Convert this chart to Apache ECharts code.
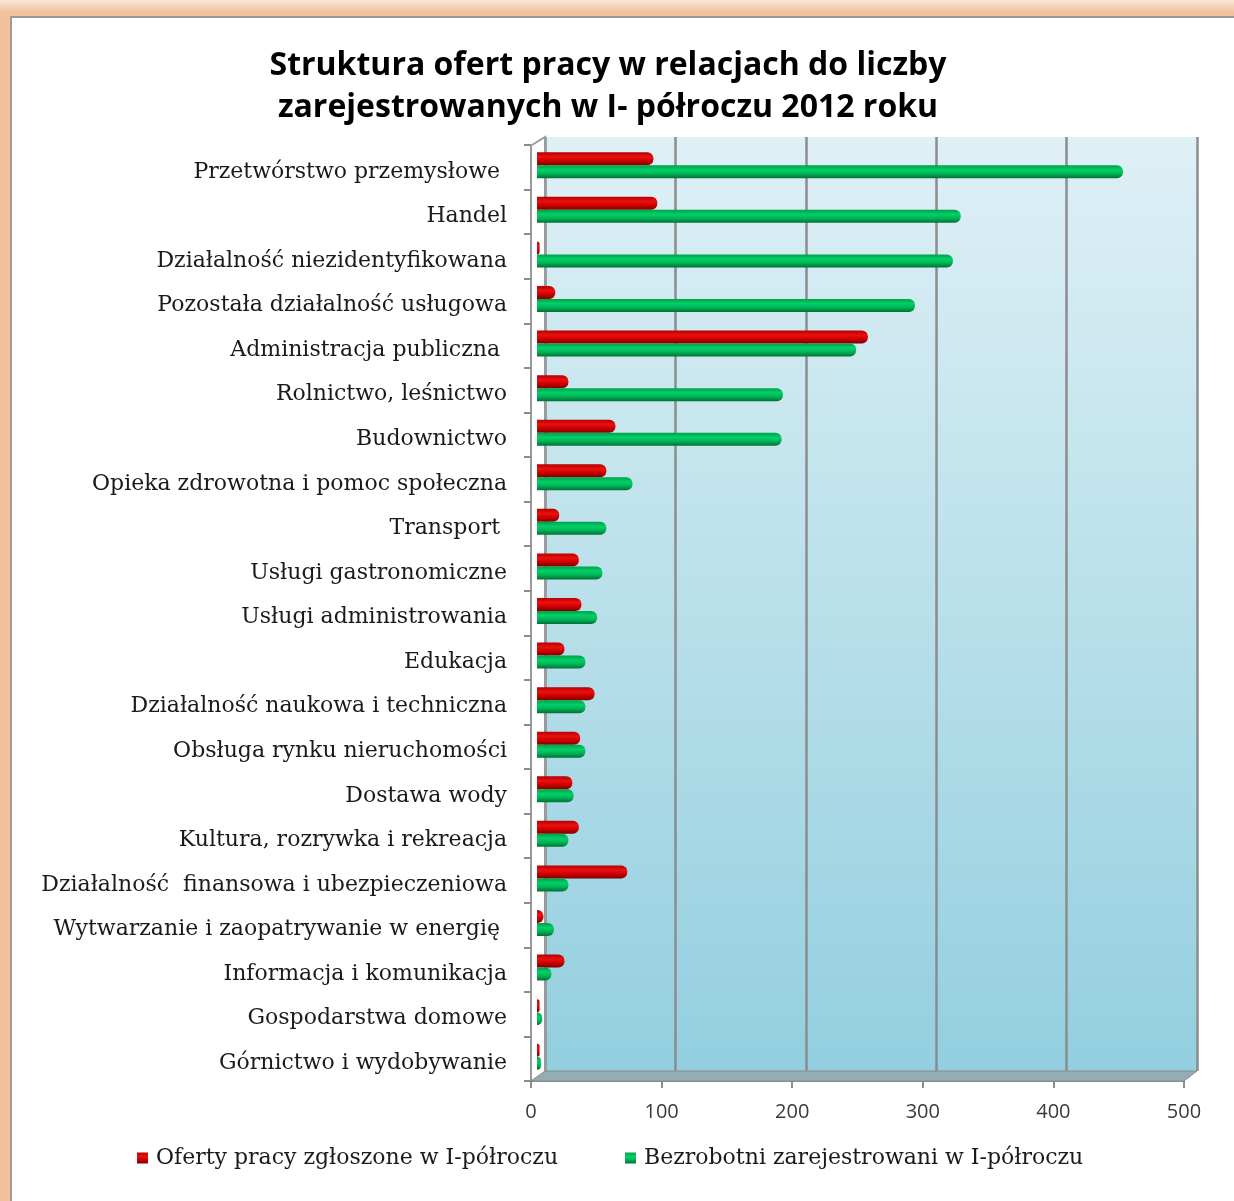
<!DOCTYPE html>
<html>
<head>
<meta charset="utf-8">
<script src="https://cdn.jsdelivr.net/npm/echarts@6/dist/echarts.min.js"></script>
<style>
    html, body { margin: 0; padding: 0; width: 1234px; height: 1201px; overflow: hidden; }
    body { background: linear-gradient(180deg, #fbe6d6 0px, #f2c29e 12px, #f2c29e 100%); }
    #frame { position: absolute; left: 10px; top: 16px; width: 1224px; height: 1185px;
             background: #fff; border-left: 2px solid #9a9a9a; border-top: 2px solid #9a9a9a; }
    #chart { position: absolute; left: 0; top: 0; width: 1234px; height: 1201px; }
</style>
</head>
<body>
<div id="frame"></div>
<div id="chart"></div>
<script>
// dane
const categories = [
    'Przetwórstwo przemysłowe ',
    'Handel',
    'Działalność niezidentyfikowana',
    'Pozostała działalność usługowa',
    'Administracja publiczna ',
    'Rolnictwo, leśnictwo',
    'Budownictwo',
    'Opieka zdrowotna i pomoc społeczna',
    'Transport ',
    'Usługi gastronomiczne',
    'Usługi administrowania',
    'Edukacja',
    'Działalność naukowa i techniczna',
    'Obsługa rynku nieruchomości',
    'Dostawa wody',
    'Kultura, rozrywka i rekreacja',
    'Działalność  finansowa i ubezpieczeniowa',
    'Wytwarzanie i zaopatrywanie w energię ',
    'Informacja i komunikacja',
    'Gospodarstwa domowe',
    'Górnictwo i wydobywanie'
];
const oferty = [89, 92, 2, 14, 253, 24, 60, 53, 17, 32, 34, 21, 44, 33, 27, 32, 69, 5, 21, 2, 2];
const bezrobotni = [448, 324, 318, 289, 244, 188, 187, 73, 53, 50, 46, 37, 37, 37, 28, 24, 24, 13, 11, 4, 3];
const xTicks = [0, 100, 200, 300, 400, 500];

const seriesNames = ['Oferty pracy zgłoszone w I-półroczu', 'Bezrobotni zarejestrowani w I-półroczu'];
const serifFont = '"DejaVu Serif", serif';

function cylinder(c0, c1, c2, c3) {
    return new echarts.graphic.LinearGradient(0, 0, 0, 1, [
        { offset: 0, color: c0 },
        { offset: 0.35, color: c1 },
        { offset: 0.65, color: c2 },
        { offset: 1, color: c3 }
    ]);
}

const dom = document.getElementById('chart');
const chart = echarts.init(dom);

const option = {
    animation: false,
    title: {
        text: 'Struktura ofert pracy w relacjach do liczby\nzarejestrowanych w I- półroczu 2012 roku',
        left: 603,
        top: 40,
        textAlign: 'center',
        textStyle: {
            fontFamily: '"Open Sans", sans-serif',
            fontWeight: 'bold',
            fontSize: 32,
            lineHeight: 42,
            color: '#000'
        }
    },
    legend: [
        {
            data: [seriesNames[0]], left: 137, top: 1147, padding: 0,
            icon: 'rect', itemWidth: 11, itemHeight: 11, itemGap: 8,
            textStyle: { fontFamily: serifFont, fontSize: 22, color: '#1a1a1a', padding: [0, 0, 0, 3] }
        },
        {
            data: [seriesNames[1]], left: 625, top: 1147, padding: 0,
            icon: 'rect', itemWidth: 11, itemHeight: 11, itemGap: 8,
            textStyle: { fontFamily: serifFont, fontSize: 22, color: '#1a1a1a', padding: [0, 0, 0, 3] }
        }
    ],
    graphic: [
        {
            // podłoga 3D
            type: 'polygon', z: 1,
            shape: { points: [[531, 1081], [545, 1071], [1197, 1071], [1184, 1081]] },
            style: { fill: '#94acb4', stroke: '#8a8a8a', lineWidth: 1 }
        },
        {
            // lewa ściana
            type: 'polyline', z: 1,
            shape: { points: [[545, 1071], [545, 137], [532, 145]] },
            style: { stroke: '#9a9a9a', lineWidth: 2, fill: null }
        }
    ],
    grid: [
        // tylna ściana
        { left: 545, right: 37, top: 137, bottom: 130, show: true, borderWidth: 0,
          backgroundColor: new echarts.graphic.LinearGradient(0, 0, 0, 1, [
              { offset: 0, color: '#dff0f6' },
              { offset: 1, color: '#93cfdf' }
          ]) },
        // przód (osie)
        { left: 531, right: 50, top: 145, bottom: 120 },
        // słupki
        { left: 537, right: 43, top: 143, bottom: 122 },
        // etykiety kategorii
        { left: 531, right: 50, top: 149.5, bottom: 115.5 }
    ],
    xAxis: [
        {
            gridIndex: 0, type: 'value', min: 0, max: 500, interval: 100,
            axisLine: { show: false }, axisTick: { show: false }, axisLabel: { show: false },
            splitLine: { show: true, lineStyle: { color: '#8c8c8c', width: 2.5 } }
        },
        {
            gridIndex: 1, type: 'value', min: 0, max: 500, interval: 100,
            axisLine: { show: true, lineStyle: { color: '#8c8c8c', width: 2 } },
            axisTick: { show: true, length: 7, lineStyle: { color: '#8c8c8c', width: 2 } },
            axisLabel: {
                margin: 21, fontFamily: '"Open Sans", sans-serif', fontSize: 20, color: '#3a3a3a',
                formatter: v => xTicks.includes(v) ? String(v) : ''
            },
            splitLine: { show: false }
        },
        { gridIndex: 2, type: 'value', min: 0, max: 500, show: false },
        { gridIndex: 3, type: 'value', min: 0, max: 500, show: false }
    ],
    yAxis: [
        { gridIndex: 0, type: 'category', data: categories, inverse: true, show: false },
        {
            gridIndex: 1, type: 'category', data: categories, inverse: true,
            axisLine: { show: true, lineStyle: { color: '#9a9a9a', width: 2 } },
            axisTick: { show: true, length: 7, lineStyle: { color: '#8c8c8c', width: 2 } },
            axisLabel: { show: false }
        },
        { gridIndex: 2, type: 'category', data: categories, inverse: true, show: false },
        {
            gridIndex: 3, type: 'category', data: categories, inverse: true,
            axisLine: { show: false }, axisTick: { show: false },
            axisLabel: { margin: 24, fontFamily: serifFont, fontSize: 22, color: '#1a1a1a' }
        }
    ],
    series: [
        {
            name: seriesNames[0], type: 'bar', xAxisIndex: 2, yAxisIndex: 2,
            data: oferty, barWidth: 13, barGap: '0%', z: 3,
            itemStyle: {
                color: cylinder('#b30000', '#ec1010', '#cc0000', '#7d0000'),
                borderRadius: [0, 6, 6, 0]
            }
        },
        {
            name: seriesNames[1], type: 'bar', xAxisIndex: 2, yAxisIndex: 2,
            data: bezrobotni, barWidth: 13, barGap: '0%', z: 3,
            itemStyle: {
                color: cylinder('#00a04a', '#00d067', '#00b456', '#007034'),
                borderRadius: [0, 6, 6, 0]
            }
        }
    ]
};

chart.setOption(option);
</script>
</body>
</html>
